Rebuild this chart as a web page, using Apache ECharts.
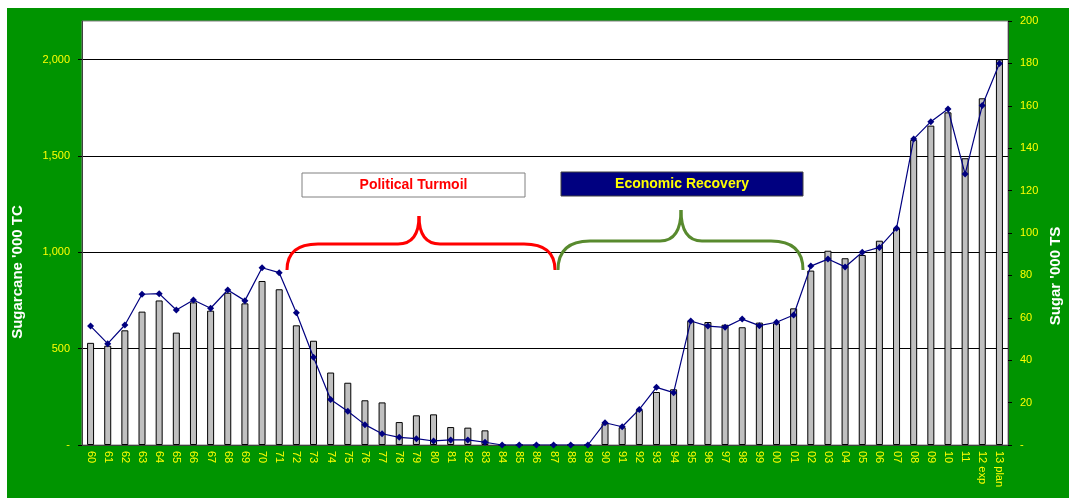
<!DOCTYPE html>
<html>
<head>
<meta charset="utf-8">
<script src="https://cdn.jsdelivr.net/npm/echarts@6/dist/echarts.min.js"></script>
<style>
html,body{margin:0;padding:0;background:#ffffff;width:1069px;height:498px;overflow:hidden;}
#chart{position:absolute;left:7px;top:8px;width:1062px;height:490px;background:#009400;}
</style>
</head>
<body>
<div id="chart"></div>
<script>
var categories = ['60','61','62','63','64','65','66','67','68','69',
  '70','71','72','73','74','75','76','77','78','79',
  '80','81','82','83','84','85','86','87','88','89',
  '90','91','92','93','94','95','96','97','98','99',
  '00','01','02','03','04','05','06','07','08','09',
  '10','11','12 exp','13 plan'];

var sugarcane = [530,515,595,692,750,583,740,697,790,735,
  851,808,621,541,376,323,232,221,119,154,
  159,93,90,76,0,0,0,0,0,0,
  113,92,182,275,289,645,638,624,611,635,
  631,709,905,1008,969,986,1060,1124,1583,1657,
  1726,1488,1799,2000];

var sugar = [56.1,47.8,56.6,71.1,71.4,63.7,68.4,64.5,73.1,68.1,
  83.6,81.3,62.4,41.4,21.5,15.9,9.6,5.3,3.6,3.0,
  1.9,2.4,2.4,1.3,0,0,0,0,0,0,
  10.5,8.6,16.8,27.2,24.7,58.5,56.1,55.5,59.4,56.3,
  57.9,61.3,84.4,87.7,84.0,90.9,93.2,102.2,144.3,152.5,
  158.5,127.8,160.1,180];

var leftTicks = [0,500,1000,1500,2000];

var labelColor = '#ffff00';
var fontFam = 'Liberation Sans, Arial, sans-serif';

function fmtThousands(v){
  if (v === 0) return '-';
  return String(v).replace(/\B(?=(\d{3})+(?!\d))/g, ',');
}

// curly brace annotation built from quadratic curves and straight lines
function brace(x0, x1, xm, yH, yEnd, yPeak, r, color){
  var st = {stroke: color, lineWidth: 3, fill: null};
  return [
    {type: 'bezierCurve', z: 10, shape: {x1: x0, y1: yEnd, cpx1: x0, cpy1: yH, x2: x0 + r, y2: yH}, style: st},
    {type: 'line', z: 10, shape: {x1: x0 + r, y1: yH, x2: xm - 21, y2: yH}, style: st},
    {type: 'bezierCurve', z: 10, shape: {x1: xm - 21, y1: yH, cpx1: xm, cpy1: yH, x2: xm, y2: yPeak}, style: st},
    {type: 'bezierCurve', z: 10, shape: {x1: xm, y1: yPeak, cpx1: xm, cpy1: yH, x2: xm + 21, y2: yH}, style: st},
    {type: 'line', z: 10, shape: {x1: xm + 21, y1: yH, x2: x1 - r, y2: yH}, style: st},
    {type: 'bezierCurve', z: 10, shape: {x1: x1 - r, y1: yH, cpx1: x1, cpy1: yH, x2: x1, y2: yEnd}, style: st}
  ];
}

var graphics = [
  {type: 'text', x: 11, y: 264, rotation: Math.PI/2,
   style: {text: "Sugarcane '000 TC", fill: '#ffffff', font: 'bold 15px ' + fontFam,
           textAlign: 'center', textVerticalAlign: 'middle'}},
  {type: 'text', x: 1049, y: 268, rotation: Math.PI/2,
   style: {text: "Sugar '000 TS", fill: '#ffffff', font: 'bold 15px ' + fontFam,
           textAlign: 'center', textVerticalAlign: 'middle'}},
  {type: 'rect', shape: {x: 295, y: 165, width: 223, height: 24}, z: 10,
   style: {fill: '#ffffff', stroke: '#808080', lineWidth: 1}},
  {type: 'text', x: 406.5, y: 177, z: 11,
   style: {text: 'Political Turmoil', fill: '#ff0000', font: 'bold 14px ' + fontFam,
           textAlign: 'center', textVerticalAlign: 'middle'}},
  {type: 'rect', shape: {x: 554, y: 164, width: 242, height: 24}, z: 10,
   style: {fill: '#000080', stroke: '#404040', lineWidth: 1}},
  {type: 'text', x: 675, y: 176, z: 11,
   style: {text: 'Economic Recovery', fill: '#ffff00', font: 'bold 14px ' + fontFam,
           textAlign: 'center', textVerticalAlign: 'middle'}}
].concat(brace(280, 548, 412, 236, 262, 208, 31, '#ff0000'))
 .concat(brace(551, 796, 674, 233, 262, 202, 32, '#588a2e'));

var chart = echarts.init(document.getElementById('chart'), null, {renderer:'canvas'});
chart.setOption({
  animation: false,
  backgroundColor: '#009400',
  grid: {left: 75, top: 13, right: 61, bottom: 53, show: true,
         backgroundColor: '#ffffff', borderColor: '#808080', borderWidth: 1},
  xAxis: {
    type: 'category', data: categories,
    axisLine: {lineStyle: {color: '#404040', width: 1}},
    axisTick: {show: false},
    axisLabel: {interval: 0, rotate: -90, color: labelColor, fontSize: 11,
                fontFamily: fontFam, margin: 6}
  },
  yAxis: [{
    type: 'value', min: 0, max: 2200, interval: 500,
    axisLine: {show: true, lineStyle: {color: '#404040'}},
    axisTick: {show: true, length: 4, lineStyle: {color: '#000'}, customValues: leftTicks},
    axisLabel: {color: labelColor, fontSize: 11, fontFamily: fontFam, margin: 12,
                customValues: leftTicks, formatter: function(v){ return fmtThousands(v); }},
    splitLine: {show: true, lineStyle: {color: '#000000', width: 1}}
  }, {
    type: 'value', min: 0, max: 200, interval: 20, position: 'right',
    axisLine: {show: true, lineStyle: {color: '#404040'}},
    axisTick: {show: true, length: 4, lineStyle: {color: '#000'}},
    axisLabel: {color: labelColor, fontSize: 11, fontFamily: fontFam, margin: 12,
                formatter: function(v){ return v === 0 ? '-' : String(v); }},
    splitLine: {show: false}
  }],
  series: [{
    name: "Sugarcane '000 TC", type: 'bar', yAxisIndex: 0, data: sugarcane,
    barWidth: 7,
    itemStyle: {color: '#c0c0c0', borderColor: '#000000', borderWidth: 1}
  }, {
    name: "Sugar '000 TS", type: 'line', yAxisIndex: 1, data: sugar,
    symbol: 'diamond', symbolSize: 7, z: 5,
    lineStyle: {color: '#000080', width: 1.2},
    itemStyle: {color: '#000080'}
  }],
  graphic: graphics
});
</script>
</body>
</html>
